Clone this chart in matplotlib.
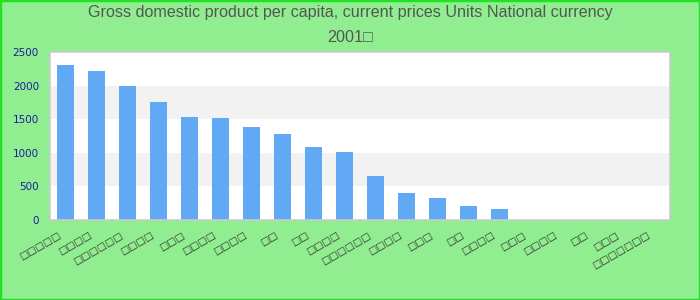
import numpy as np
import matplotlib
matplotlib.use("Agg")
import matplotlib.pyplot as plt
import matplotlib.transforms as mtransforms
from matplotlib.patches import Rectangle

# Data (labels render as boxes there, kept as boxes)
labels = ["□□□□□", "□□□□", "□□□□□□", "□□□□", "□□□", "□□□□", "□□□□", "□□",
          "□□", "□□□□", "□□□□□□", "□□□□", "□□□", "□□", "□□□□", "□□□",
          "□□□□", "□□", "□□□", "□□□□□□□"]
values = [2302, 2213, 1990, 1753, 1530, 1515, 1381, 1277, 1084, 1010,
          653, 401, 327, 208, 163, 0, 0, 0, 0, 0]
y_ticks = [0, 500, 1000, 1500, 2000, 2500]
title_line1 = "Gross domestic product per capita, current prices Units National currency"
title_line2 = "2001□"

fig = plt.figure(figsize=(7, 3), dpi=100, facecolor="#90EE90")
ax = fig.add_axes([50 / 700, 1 - 220 / 300, 620 / 700, 168 / 300])
ax.set_facecolor("white")

# alternating bands
for lo, hi in [(500, 1000), (1500, 2000)]:
    ax.axhspan(lo, hi, color="#F2F2F2", zorder=0, lw=0)

x = np.arange(len(labels))
ax.bar(x, values, width=0.55, color="#62A9F5", zorder=2)

ax.set_xlim(-0.5, len(labels) - 0.5)
ax.set_ylim(0, 2500)
ax.set_yticks(y_ticks)
ax.set_yticklabels([str(v) for v in y_ticks], color="#1C1C9A", fontsize=7.5)
ax.tick_params(axis="y", length=0, pad=8)
ax.set_xticks(x)
ax.set_xticklabels(labels, rotation=30, ha="right", va="top",
                   rotation_mode="anchor", fontsize=7, color="#333333")
ax.tick_params(axis="x", length=0, pad=8)
shift = mtransforms.ScaledTranslation(-8 / 100, 1 / 100, fig.dpi_scale_trans)
for t in ax.get_xticklabels():
    t.set_transform(t.get_transform() + shift)

for s in ax.spines.values():
    s.set_color("#CCCCCC")
    s.set_linewidth(1.2)

fig.text(0.5, 1 - 13 / 300, title_line1, ha="center", va="center",
         fontsize=11.6, color="#555555", family="Liberation Sans")
fig.text(0.5, 1 - 37 / 300, title_line2, ha="center", va="center",
         fontsize=11.6, color="#555555", family=["Liberation Sans", "DejaVu Sans"])

# outer border
fig.patches.append(Rectangle((0, 0), 1, 1, transform=fig.transFigure,
                             fill=False, edgecolor="#22E022", lw=2.5))

fig.savefig("out.png", dpi=100, facecolor=fig.get_facecolor())
